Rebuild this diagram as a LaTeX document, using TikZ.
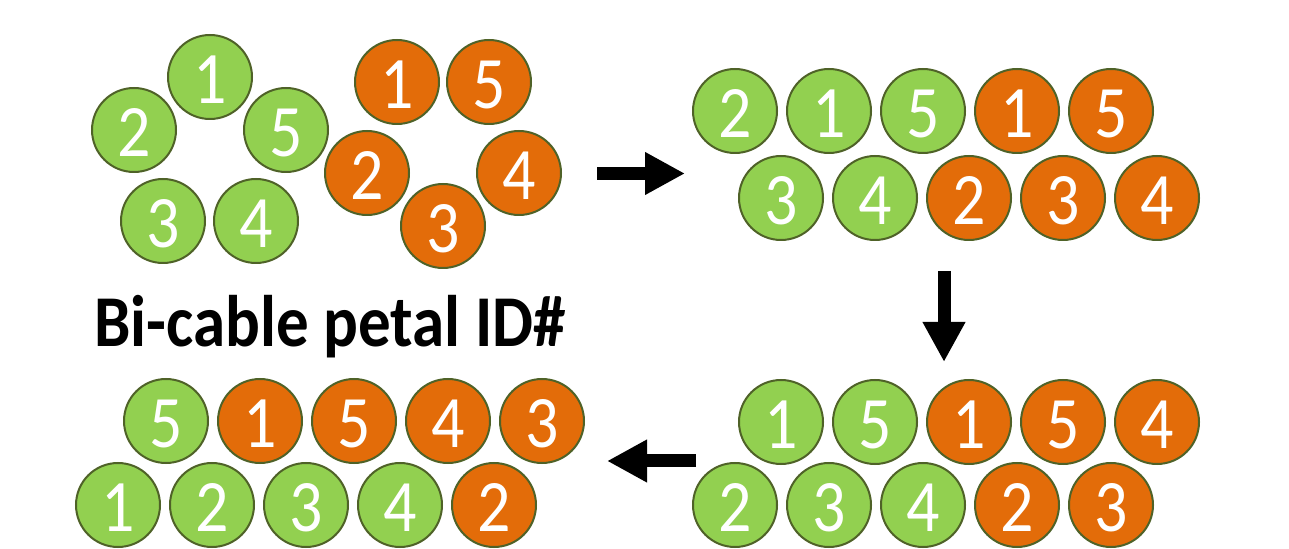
\documentclass[tikz,border=0pt]{standalone}
\usepackage{fontspec}
\setmainfont[FakeStretch=0.89]{Carlito}
\usetikzlibrary{arrows.meta}
\definecolor{petalgreen}{HTML}{92D050}
\definecolor{petalorange}{HTML}{E36C09}
\definecolor{petalrim}{HTML}{4F6228}
\begin{document}
\begin{tikzpicture}
[x=0.5pt, y=-0.5pt, node distance=47pt, font=\fontsize{37}{37}\selectfont]
\tikzstyle{petal}=[circle, draw=petalrim, line width=1pt, text=white, inner sep=0pt, minimum size=42pt, text height=26.5pt, text depth=0pt]
\tikzstyle{gpetal}=[petal, fill=petalgreen]
\tikzstyle{opetal}=[petal, fill=petalorange]
\tikzstyle{block}=[line width=6.5pt, -{Triangle[length=20pt, width=20pt]}]
\useasboundingbox (0,0) rectangle (1289,549);

% the two cables as they sit
\node[gpetal]	(G1)	at (210,77)		{1};
\node[gpetal]	(G2)	at (134,130)	{2};
\node[gpetal]	(G5)	at (286,130)	{5};
\node[gpetal]	(G3)	at (163,221)	{3};
\node[gpetal]	(G4)	at (256,221)	{4};
\node[opetal]	(O1)	at (397,82)		{1};
\node[opetal]	(O5)	at (489,82)		{5};
\node[opetal]	(O2)	at (367,173)	{2};
\node[opetal]	(O4)	at (519,173)	{4};
\node[opetal]	(O3)	at (443,226)	{3};

\node[font=\fontsize{36.5}{40}\selectfont\bfseries, anchor=base]	(title)	at (330,347)	{Bi-cable petal ID\#};

% first step
\node[gpetal]	(R1)	at (735,111)		{2};
\node[gpetal]	(R2)	[right of=R1]	{1};
\node[gpetal]	(R3)	[right of=R2]	{5};
\node[opetal]	(R4)	[right of=R3]	{1};
\node[opetal]	(R5)	[right of=R4]	{5};
\node[gpetal]	(R6)	at (781,198)		{3};
\node[gpetal]	(R7)	[right of=R6]	{4};
\node[opetal]	(R8)	[right of=R7]	{2};
\node[opetal]	(R9)	[right of=R8]	{3};
\node[opetal]	(R10)	[right of=R9]	{4};

% second step
\node[gpetal]	(S1)	at (781,422)		{1};
\node[gpetal]	(S2)	[right of=S1]	{5};
\node[opetal]	(S3)	[right of=S2]	{1};
\node[opetal]	(S4)	[right of=S3]	{5};
\node[opetal]	(S5)	[right of=S4]	{4};
\node[gpetal]	(S6)	at (735,505)		{2};
\node[gpetal]	(S7)	[right of=S6]	{3};
\node[gpetal]	(S8)	[right of=S7]	{4};
\node[opetal]	(S9)	[right of=S8]	{2};
\node[opetal]	(S10)	[right of=S9]	{3};

% third step
\node[gpetal]	(T1)	at (166,421)		{5};
\node[opetal]	(T2)	[right of=T1]	{1};
\node[opetal]	(T3)	[right of=T2]	{5};
\node[opetal]	(T4)	[right of=T3]	{4};
\node[opetal]	(T5)	[right of=T4]	{3};
\node[gpetal]	(T6)	at (118,505)		{1};
\node[gpetal]	(T7)	[right of=T6]	{2};
\node[gpetal]	(T8)	[right of=T7]	{3};
\node[gpetal]	(T9)	[right of=T8]	{4};
\node[opetal]	(T10)	[right of=T9]	{2};

\coordinate	(A1s)	at (597,173.5);
\coordinate	(A1e)	at (685,173.5);
\coordinate	(A2s)	at (944,271);
\coordinate	(A2e)	at (944,362);
\coordinate	(A3s)	at (696,461);
\coordinate	(A3e)	at (607,461);

\draw [block] (A1s)--(A1e);
\draw [block] (A2s)--(A2e);
\draw [block] (A3s)--(A3e);
\end{tikzpicture}
\end{document}
